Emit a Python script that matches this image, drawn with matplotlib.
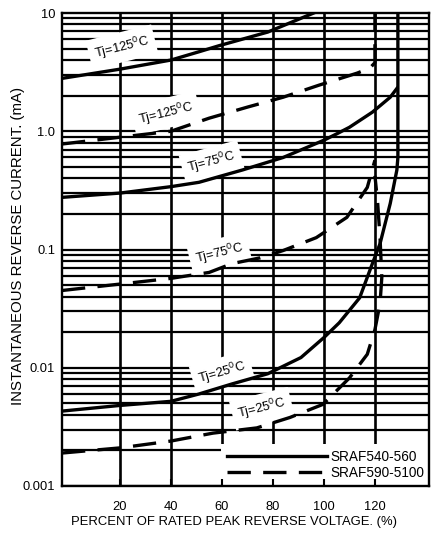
import matplotlib
matplotlib.use("Agg")
import matplotlib.pyplot as plt
import numpy as np

plt.rcParams['font.family'] = ['Liberation Sans', 'DejaVu Sans']
plt.rcParams['font.size'] = 9
plt.rcParams['mathtext.default'] = 'regular'

# (x in %, current in mA)
x_125_a = [-2.7, 20, 40, 51, 59, 78, 96]
i_125_a = [2.8, 3.35, 4.0, 4.7, 5.3, 6.9, 10.0]

x_125_b = [-2.7, 20, 40, 55, 70, 84, 98, 113, 118, 120, 120]
i_125_b = [0.78, 0.89, 1.0, 1.29, 1.6, 1.94, 2.45, 3.1, 3.42, 3.8, 10.0]

x_75_a = [-2.7, 20, 40, 51, 68, 84, 100, 105, 110, 119, 126, 128.6]
i_75_a = [0.276, 0.30, 0.34, 0.37, 0.47, 0.60, 0.84, 0.95, 1.08, 1.45, 1.94, 2.3]

x_75_b = [-2.7, 20, 40, 55, 64, 75, 84, 97, 109, 117, 120]
i_75_b = [0.045, 0.051, 0.057, 0.064, 0.076, 0.085, 0.098, 0.126, 0.187, 0.335, 0.57]

x_25_a = [-2.7, 20, 40, 51, 64, 78, 91, 100, 106, 114, 119, 122, 126, 128.6, 129, 129]
i_25_a = [0.0043, 0.0048, 0.0052, 0.006, 0.0073, 0.0089, 0.0122, 0.018, 0.024,
          0.039, 0.076, 0.112, 0.245, 0.47, 0.6, 10.0]

x_25_b = [-2.7, 20, 40, 56.5, 73.7, 86.7, 99.6, 110, 117, 120, 122, 122.7, 122, 121, 120]
i_25_b = [0.0019, 0.0021, 0.0024, 0.0028, 0.0031, 0.0038, 0.0049, 0.0082, 0.013,
          0.021, 0.035, 0.058, 0.126, 0.26, 0.42]

# curve labels: text, x, y, angle
labels = [
    ("Tj=125$^{0}$C", 20.8, 5.15, 14),
    ("Tj=125$^{0}$C", 38, 1.42, 14),
    ("Tj=75$^{0}$C", 56, 0.546, 15),
    ("Tj=75$^{0}$C", 59, 0.0925, 14),
    ("Tj=25$^{0}$C", 60, 0.0091, 16),
    ("Tj=25$^{0}$C", 75.7, 0.0045, 14),
]

x_ticks = [20, 40, 60, 80, 100, 120]
y_ticks = [0.001, 0.01, 0.1, 1.0, 10]
y_tick_labels = ["0.001", "0.01", "0.1", "1.0", "10"]

fig = plt.figure(figsize=(4.38, 5.45), dpi=100)
ax = fig.add_axes([62/438, 1-486/545, (429-62)/438, (486-13)/545])
ax.set_yscale('log')
ax.set_xlim(-2.7, 141.2)
ax.set_ylim(0.001, 10)

# grid drawn by hand so the legend box can sit above it and below the ticks
for dec in [0.001, 0.01, 0.1, 1.0]:
    for m in range(1, 10):
        ax.axhline(dec*m, color='black', lw=1.6, zorder=1)
for xv in x_ticks:
    ax.axvline(xv, color='black', lw=1.9, zorder=1)

lw = 2.4
dash = (7.0, 3.7)
ax.plot(x_125_a, i_125_a, color='black', lw=lw, zorder=3, label='SRAF540-560')
ax.plot(x_75_a, i_75_a, color='black', lw=lw, zorder=3)
ax.plot(x_25_a, i_25_a, color='black', lw=lw, zorder=3)
ax.plot(x_125_b, i_125_b, color='black', lw=lw, zorder=3, dashes=dash, label='SRAF590-5100')
ax.plot(x_75_b, i_75_b, color='black', lw=lw, zorder=3, dashes=dash)
ax.plot(x_25_b, i_25_b, color='black', lw=lw, zorder=3, dashes=dash)

for txt, tx, ty, ang in labels:
    ax.text(tx, ty, txt, rotation=ang, rotation_mode='anchor', ha='center', va='center',
            fontsize=9.3, zorder=2,
            bbox=dict(boxstyle='square,pad=0.45', fc='white', ec='none'))

ax.set_xticks(x_ticks)
ax.set_xticklabels([str(v) for v in x_ticks])
ax.set_yticks(y_ticks)
ax.set_yticklabels(y_tick_labels)
ax.minorticks_off()
ax.tick_params(axis='x', direction='in', length=5, width=1.5, pad=11, labelsize=9.3)
ax.tick_params(axis='y', length=0, pad=5, labelsize=9.3)
for s in ax.spines.values():
    s.set_linewidth(1.7)

ax.set_xlabel("PERCENT OF RATED PEAK REVERSE VOLTAGE. (%)", fontsize=9.4)
ax.xaxis.set_label_coords(0.4687, -0.0634)
ax.set_ylabel("INSTANTANEOUS REVERSE CURRENT. (mA)", fontsize=10.8)
ax.yaxis.set_label_coords(-0.1008, 0.507)

leg = ax.legend(loc='lower right', bbox_to_anchor=(1.005, 0.0), frameon=True, fancybox=False,
                edgecolor='none', facecolor='white', framealpha=1, handlelength=7.3,
                handletextpad=0.3, labelspacing=0.15, borderpad=0.45, borderaxespad=0.0,
                fontsize=9.8)
leg.set_zorder(2)
ax.xaxis.set_zorder(2.5)

fig.savefig("out.png", dpi=100)
